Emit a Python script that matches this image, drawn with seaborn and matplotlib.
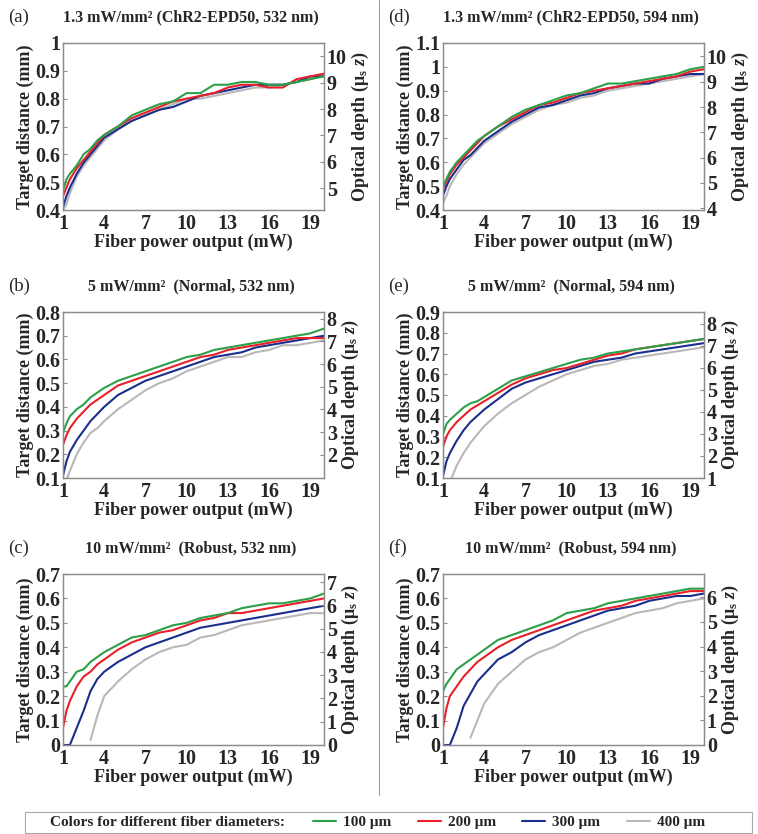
import numpy as np
import pandas as pd
import matplotlib
matplotlib.use("Agg")
import matplotlib.pyplot as plt
import seaborn as sns
from matplotlib.lines import Line2D
from matplotlib.patches import Rectangle
from matplotlib.ticker import FuncFormatter

# fiber power output (mW)
power = [1, 1.25, 1.5, 2, 2.5, 3, 3.5, 4, 5, 6, 7, 8, 9, 10, 11, 12, 13, 14, 15, 16, 17, 18, 19, 20]
fibers = ["100 μm", "200 μm", "300 μm", "400 μm"]
colors = ["#2ca048", "#e8202a", "#1a2f8c", "#b8b8b8"]

# target distance (mm), rows = 100, 200, 300, 400 um
dist_a = [
    [0.47, 0.51, 0.53, 0.56, 0.60, 0.62, 0.65, 0.67, 0.70, 0.74, 0.76, 0.78, 0.79, 0.82, 0.82, 0.85, 0.85, 0.86, 0.86, 0.85, 0.85, 0.86, 0.87, 0.88],
    [0.45, 0.48, 0.51, 0.55, 0.58, 0.61, 0.64, 0.67, 0.70, 0.73, 0.75, 0.77, 0.79, 0.80, 0.81, 0.82, 0.84, 0.85, 0.85, 0.84, 0.84, 0.87, 0.88, 0.89],
    [0.41, 0.45, 0.48, 0.53, 0.57, 0.60, 0.63, 0.66, 0.69, 0.72, 0.74, 0.76, 0.77, 0.79, 0.81, 0.82, 0.83, 0.84, 0.85, 0.85, 0.85, 0.86, 0.88, 0.88],
    [0.40, 0.42, 0.46, 0.52, 0.56, 0.59, 0.62, 0.65, 0.69, 0.72, 0.74, 0.76, 0.78, 0.80, 0.80, 0.81, 0.82, 0.83, 0.84, 0.84, 0.85, 0.86, 0.87, 0.89],
]
dist_b = [
    [0.29, 0.33, 0.36, 0.39, 0.41, 0.44, 0.46, 0.48, 0.51, 0.53, 0.55, 0.57, 0.59, 0.61, 0.62, 0.64, 0.65, 0.66, 0.67, 0.68, 0.69, 0.70, 0.71, 0.73],
    [0.24, 0.28, 0.31, 0.35, 0.38, 0.41, 0.43, 0.45, 0.49, 0.51, 0.53, 0.55, 0.57, 0.59, 0.61, 0.62, 0.64, 0.65, 0.66, 0.67, 0.68, 0.69, 0.69, 0.69],
    [0.11, 0.17, 0.21, 0.26, 0.30, 0.34, 0.37, 0.40, 0.45, 0.48, 0.51, 0.53, 0.55, 0.57, 0.59, 0.61, 0.62, 0.63, 0.65, 0.66, 0.67, 0.68, 0.69, 0.70],
    [0.05, 0.09, 0.13, 0.20, 0.25, 0.29, 0.31, 0.34, 0.39, 0.43, 0.47, 0.50, 0.52, 0.55, 0.57, 0.59, 0.61, 0.61, 0.63, 0.64, 0.66, 0.66, 0.67, 0.68],
]
dist_c = [
    [0.24, 0.24, 0.26, 0.30, 0.31, 0.34, 0.36, 0.38, 0.41, 0.44, 0.45, 0.47, 0.49, 0.50, 0.52, 0.53, 0.54, 0.56, 0.57, 0.58, 0.58, 0.59, 0.60, 0.62],
    [0.07, 0.14, 0.18, 0.24, 0.28, 0.30, 0.33, 0.35, 0.39, 0.42, 0.44, 0.46, 0.47, 0.49, 0.51, 0.52, 0.54, 0.54, 0.55, 0.56, 0.57, 0.58, 0.59, 0.60],
    [0.00, 0.00, 0.00, 0.07, 0.14, 0.22, 0.27, 0.30, 0.34, 0.37, 0.40, 0.42, 0.44, 0.46, 0.48, 0.49, 0.50, 0.51, 0.52, 0.53, 0.54, 0.55, 0.56, 0.57],
    [np.nan, np.nan, np.nan, np.nan, np.nan, 0.02, 0.12, 0.20, 0.26, 0.31, 0.35, 0.38, 0.40, 0.41, 0.44, 0.45, 0.47, 0.49, 0.50, 0.51, 0.52, 0.53, 0.54, 0.54],
]
dist_d = [
    [0.50, 0.53, 0.56, 0.60, 0.63, 0.66, 0.69, 0.71, 0.75, 0.79, 0.82, 0.84, 0.86, 0.88, 0.89, 0.91, 0.93, 0.93, 0.94, 0.95, 0.96, 0.97, 0.99, 1.00],
    [0.49, 0.52, 0.55, 0.59, 0.62, 0.65, 0.68, 0.71, 0.75, 0.78, 0.81, 0.84, 0.85, 0.87, 0.89, 0.90, 0.91, 0.92, 0.93, 0.94, 0.95, 0.96, 0.98, 0.99],
    [0.46, 0.50, 0.53, 0.57, 0.61, 0.63, 0.66, 0.69, 0.73, 0.77, 0.80, 0.83, 0.84, 0.86, 0.88, 0.89, 0.91, 0.92, 0.93, 0.93, 0.95, 0.96, 0.97, 0.97],
    [0.43, 0.46, 0.50, 0.55, 0.59, 0.62, 0.65, 0.68, 0.72, 0.76, 0.79, 0.82, 0.84, 0.85, 0.87, 0.88, 0.90, 0.91, 0.92, 0.93, 0.94, 0.95, 0.96, 0.97],
]
dist_e = [
    [0.31, 0.36, 0.38, 0.41, 0.44, 0.46, 0.47, 0.49, 0.53, 0.57, 0.59, 0.61, 0.63, 0.65, 0.67, 0.68, 0.70, 0.71, 0.72, 0.73, 0.74, 0.75, 0.76, 0.77],
    [0.25, 0.30, 0.33, 0.37, 0.40, 0.43, 0.45, 0.47, 0.51, 0.55, 0.58, 0.60, 0.62, 0.63, 0.65, 0.67, 0.69, 0.70, 0.72, 0.73, 0.74, 0.75, 0.76, 0.77],
    [0.11, 0.18, 0.22, 0.28, 0.33, 0.37, 0.40, 0.43, 0.48, 0.53, 0.56, 0.58, 0.60, 0.62, 0.64, 0.66, 0.67, 0.68, 0.70, 0.71, 0.72, 0.73, 0.74, 0.75],
    [0.05, 0.06, 0.08, 0.16, 0.22, 0.27, 0.31, 0.35, 0.41, 0.46, 0.50, 0.54, 0.57, 0.60, 0.62, 0.64, 0.65, 0.67, 0.68, 0.69, 0.70, 0.71, 0.72, 0.73],
]
dist_f = [
    [0.22, 0.25, 0.27, 0.31, 0.33, 0.35, 0.37, 0.39, 0.43, 0.45, 0.47, 0.49, 0.51, 0.54, 0.55, 0.56, 0.58, 0.59, 0.60, 0.61, 0.62, 0.63, 0.64, 0.64],
    [0.07, 0.15, 0.20, 0.24, 0.28, 0.31, 0.34, 0.36, 0.40, 0.43, 0.45, 0.47, 0.49, 0.51, 0.53, 0.55, 0.56, 0.57, 0.59, 0.60, 0.61, 0.62, 0.63, 0.63],
    [0.00, 0.00, 0.00, 0.07, 0.16, 0.21, 0.26, 0.29, 0.35, 0.38, 0.42, 0.45, 0.47, 0.49, 0.51, 0.53, 0.55, 0.56, 0.57, 0.59, 0.60, 0.61, 0.61, 0.62],
    [np.nan, np.nan, np.nan, np.nan, np.nan, 0.03, 0.10, 0.17, 0.25, 0.30, 0.35, 0.38, 0.40, 0.43, 0.46, 0.48, 0.50, 0.52, 0.54, 0.55, 0.56, 0.58, 0.59, 0.60],
]

letters = ["(a)", "(b)", "(c)", "(d)", "(e)", "(f)"]
titles = ["1.3 mW/mm² (ChR2-EPD50, 532 nm)", "5 mW/mm²  (Normal, 532 nm)", "10 mW/mm²  (Robust, 532 nm)",
          "1.3 mW/mm² (ChR2-EPD50, 594 nm)", "5 mW/mm²  (Normal, 594 nm)", "10 mW/mm²  (Robust, 594 nm)"]
all_dist = [dist_a, dist_b, dist_c, dist_d, dist_e, dist_f]
left_lims = [(0.4, 1.0), (0.1, 0.8), (0.0, 0.7), (0.4, 1.1), (0.1, 0.9), (0.0, 0.7)]
right_lims = [(4.18, 10.5), (0.98, 8.29), (0.0, 7.35), (3.93, 10.53), (1.0, 8.53), (0.0, 6.95)]
right_ticks = [range(5, 11), range(2, 9), range(0, 8), range(4, 11), range(1, 9), range(0, 7)]

sns.set_style("white")
plt.rcParams["font.family"] = ["Liberation Serif", "DejaVu Serif"]
plt.rcParams["font.weight"] = "bold"
plt.rcParams["mathtext.fontset"] = "custom"
plt.rcParams["mathtext.rm"] = "Liberation Serif"
plt.rcParams["mathtext.bf"] = "Liberation Serif:bold"
plt.rcParams["mathtext.it"] = "Liberation Serif:bold:italic"
plt.rcParams["mathtext.default"] = "bf"

fig = plt.figure(figsize=(7.58, 8.34), dpi=100)
W, H = 758.0, 834.0
col_left = [63, 443]
row_top = [43, 312, 574]
row_bot = [210, 478, 745]
gray = "#8c8c8c"

fmt = FuncFormatter(lambda v, p: ("%.1f" % v).rstrip("0").rstrip(".") if v != 0 else "0")

for i in range(6):
    c, r = i // 3, i % 3
    x0 = col_left[c] / W
    y0 = 1 - row_bot[r] / H
    ax = fig.add_axes([x0, y0, 261 / W, (row_bot[r] - row_top[r]) / H])
    rows = []
    for fb, vals in zip(fibers, all_dist[i]):
        for p, v in zip(power, vals):
            rows.append({"power": p, "dist": v, "fiber": fb})
    df = pd.DataFrame(rows).dropna()
    sns.lineplot(data=df, x="power", y="dist", hue="fiber", hue_order=fibers[::-1],
                 palette=dict(zip(fibers, colors)), estimator=None, sort=True,
                 linewidth=1.5, legend=False, ax=ax)
    ax.set_xlim(1, 20)
    ax.set_ylim(*left_lims[i])
    ax.set_xticks([1, 4, 7, 10, 13, 16, 19])
    lo, hi = left_lims[i]
    ax.set_yticks(np.round(np.arange(lo, hi + 0.001, 0.1), 1))
    ax.yaxis.set_major_formatter(fmt)
    ax.set_xlabel("Fiber power output (mW)", fontsize=13, fontweight="bold", labelpad=0)
    ax.set_ylabel("Target distance (mm)", fontsize=13, fontweight="bold", labelpad=1)
    ax.tick_params(axis="both", direction="in", length=3, color=gray, labelsize=14.5, pad=2)
    ax.tick_params(axis="x", pad=3)
    for s in ax.spines.values():
        s.set_color(gray)
        s.set_linewidth(0.9)
    ax2 = ax.twinx()
    ax2.set_ylim(*right_lims[i])
    ax2.set_yticks(list(right_ticks[i]))
    ax2.tick_params(axis="y", direction="in", length=3, color=gray, labelsize=14.5, pad=2)
    ax2.set_ylabel(r"Optical depth (μ$_s$ $\mathit{z}$)", fontsize=13, fontweight="bold", labelpad=2)
    for s in ax2.spines.values():
        s.set_color(gray)
        s.set_linewidth(0.9)
    ty = 1 - (row_top[r] - 26) / H
    fig.text((col_left[c] - 55) / W, ty, letters[i], fontsize=13.5, fontweight="normal", va="center", ha="left")
    fig.text((col_left[c] + 128) / W, ty, titles[i], fontsize=11.5, fontweight="bold", va="center", ha="center")

# column separator
fig.add_artist(Line2D([379 / W, 379 / W], [1 - 795 / H, 1.0], color="#a0a0a0", lw=0.8,
                      transform=fig.transFigure))

# legend box at the bottom
fig.add_artist(Rectangle((25 / W, 1 - 833 / H), 727 / W, 21 / H, transform=fig.transFigure,
                         fill=False, edgecolor="#a8a8a8", lw=0.8))
fig.text(50 / W, 1 - 822.5 / H, "Colors for different fiber diameters:", fontsize=11,
         fontweight="bold", va="center", ha="left")
handles = [Line2D([], [], color=col, lw=1.5) for col in colors]
leg = fig.legend(handles, fibers, loc="center left", bbox_to_anchor=(313 / W, 1 - 822.5 / H), ncol=4,
                 frameon=False, handlelength=1.5, columnspacing=1.75, handletextpad=0.45,
                 borderpad=0.0, borderaxespad=0.0, prop={"weight": "bold", "size": 11})

fig.savefig("out.png", dpi=100)
plt.close()
